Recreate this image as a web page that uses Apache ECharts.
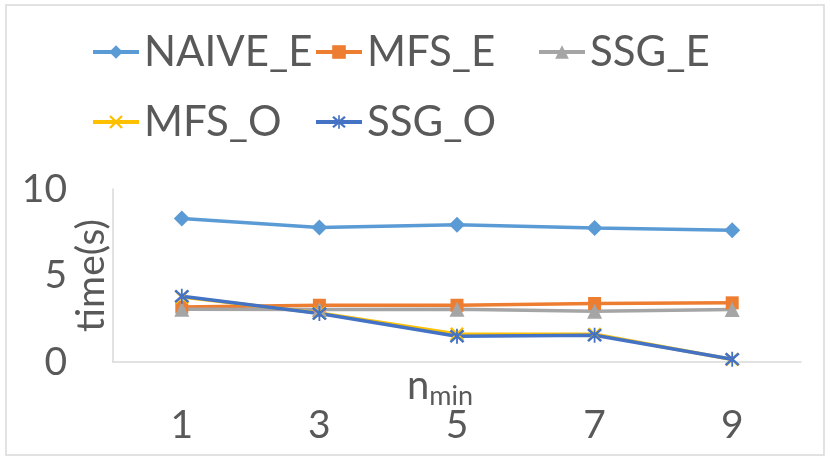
<!DOCTYPE html>
<html>
<head>
<meta charset="utf-8">
<script src="https://cdn.jsdelivr.net/npm/echarts@6/dist/echarts.min.js"></script>
<style>
  html, body { margin: 0; padding: 0; background: #fff; }
  #chart { width: 831px; height: 461px; }
</style>
</head>
<body>
<div id="chart"></div>
<script>
const categories = ['1', '3', '5', '7', '9'];
const naiveE = [8.3, 7.78, 7.93, 7.74, 7.61];
const mfsE = [3.18, 3.28, 3.28, 3.38, 3.42];
const ssgE = [3.05, 3.03, 3.05, 2.94, 3.03];
const mfsO = [3.75, 2.83, 1.62, 1.6, 0.15];
const ssgO = [3.8, 2.8, 1.49, 1.55, 0.16];
const yTicks = [0, 5, 10];

const textColor = '#595959';
const font = 'Lato';

// filled outlines for the x and asterisk markers
const xMark = 'path://M0,1.2L1.2,0L5,3.8L8.8,0L10,1.2L6.2,5L10,8.8L8.8,10L5,6.2L1.2,10L0,8.8L3.8,5Z';
const starMark = xMark + 'M4.4,-0.6L5.6,-0.6L5.6,10.6L4.4,10.6Z';

const chart = echarts.init(document.getElementById('chart'));

function lineSeries(name, data, color, symbol, size) {
  return {
    name: name,
    type: 'line',
    data: data,
    symbol: symbol,
    symbolSize: size,
    showSymbol: true,
    lineStyle: { color: color, width: 3.5 },
    itemStyle: { color: color },
    emphasis: { disabled: true },
    animation: false
  };
}

const legendText = {
  color: textColor,
  fontFamily: font,
  fontSize: 42,
  lineHeight: 50,
  width: 170
};

const legendBase = {
  left: 91,
  padding: 0,
  itemGap: 0,
  itemWidth: 46,
  itemHeight: 17,
  lineStyle: { width: 4 },
  textStyle: legendText
};

const option = {
  backgroundColor: '#fff',
  legend: [
    Object.assign({ data: ['NAIVE_E', 'MFS_E', 'SSG_E'], top: 27 }, legendBase),
    Object.assign({ data: ['MFS_O', 'SSG_O'], top: 97 }, legendBase)
  ],
  grid: {
    left: 113,
    right: 30,
    top: 189,
    bottom: 99,
    outerBoundsMode: 'none'
  },
  xAxis: {
    type: 'category',
    data: categories,
    boundaryGap: true,
    axisLine: { lineStyle: { color: '#D9D9D9', width: 1.5 } },
    axisTick: { show: false },
    axisLabel: { color: textColor, fontFamily: font, fontSize: 39, margin: 44 },
    name: '{n|n}{sub|min}',
    nameLocation: 'middle',
    nameGap: 0,
    nameMoveOverlap: false,
    nameTextStyle: {
      padding: [0, 34, 0, 0],
      rich: {
        n: { fontFamily: font, fontSize: 40, color: textColor, verticalAlign: 'bottom', lineHeight: 44 },
        sub: { fontFamily: font, fontSize: 27, color: textColor, verticalAlign: 'bottom', lineHeight: 44, padding: [0, 0, -4, 0] }
      }
    }
  },
  yAxis: {
    type: 'value',
    min: yTicks[0],
    max: yTicks[yTicks.length - 1],
    interval: yTicks[1] - yTicks[0],
    axisLine: { show: true, lineStyle: { color: '#D9D9D9', width: 1.5 } },
    axisTick: { show: false },
    splitLine: { show: false },
    axisLabel: { color: textColor, fontFamily: font, fontSize: 39, margin: 46 },
    name: 'time(s)',
    nameLocation: 'middle',
    nameRotate: 90,
    nameGap: 2,
    nameMoveOverlap: false,
    nameTextStyle: { color: textColor, fontFamily: font, fontSize: 39 }
  },
  graphic: [{
    type: 'rect',
    shape: { x: 6, y: 5, width: 818, height: 450 },
    style: { fill: 'none', stroke: '#D9D9D9', lineWidth: 1.5 },
    silent: true,
    z: -10
  }],
  series: [
    lineSeries('NAIVE_E', naiveE, '#5B9BD5', 'diamond', 16),
    lineSeries('MFS_E', mfsE, '#ED7D31', 'rect', 13),
    lineSeries('SSG_E', ssgE, '#A5A5A5', 'triangle', 15),
    lineSeries('MFS_O', mfsO, '#FFC000', xMark, 14),
    lineSeries('SSG_O', ssgO, '#4472C4', starMark, 15)
  ]
};

chart.setOption(option);
</script>
</body>
</html>
